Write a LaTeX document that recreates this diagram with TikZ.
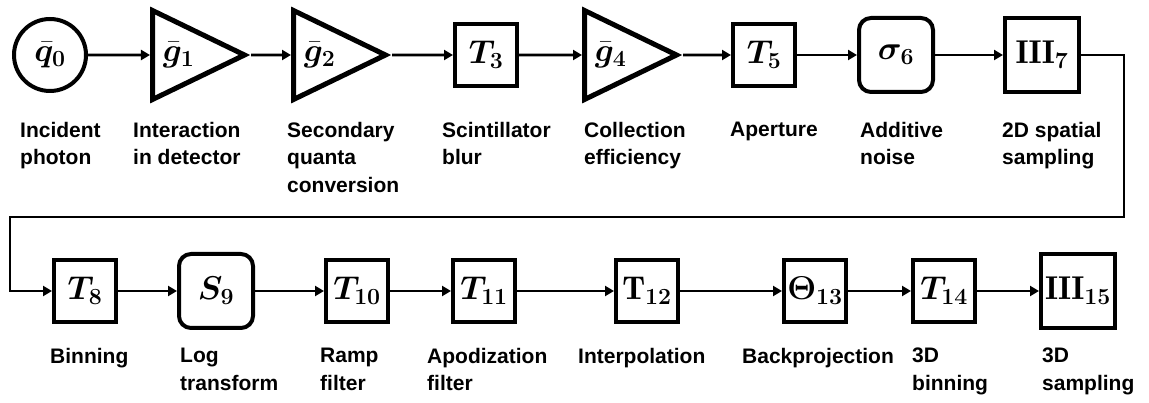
\documentclass[tikz,border=0pt]{standalone}
\usepackage{fix-cm}
\usepackage{amsmath}
\usepackage{bm}
\usepackage{fontspec}
\setsansfont{Liberation Sans}
\usetikzlibrary{arrows.meta,shapes.geometric}

\begin{document}
\begin{tikzpicture}[x=1pt,y=-1pt,
  mathfont/.style={font=\fontsize{33}{35}\selectfont},
  blk/.style={draw, line width=4pt, minimum width=62pt, minimum height=62pt, inner sep=0pt, mathfont},
  bigblk/.style={blk, minimum width=74pt, minimum height=74pt},
  rblk/.style={bigblk, rounded corners=12pt},
  gain/.style={draw, isosceles triangle, isosceles triangle stretches, line width=5pt,
    minimum width=89pt, minimum height=92pt, inner sep=0pt, anchor=lower side, mathfont},
  src/.style={draw, circle, line width=4pt, minimum size=72pt, inner sep=0pt, mathfont},
  conn/.style={line width=2.8pt, -{Triangle[length=9pt,width=10pt]}},
  lbl/.style={anchor=north west, align=left, inner sep=0pt, font=\sffamily\bfseries\fontsize{21}{27.5}\selectfont}]
\useasboundingbox (0,0) rectangle (1149,403);

% detector chain
\node[src] (q0) at (50,55) {$\bar{\bm{q}}_{\bm{0}}$};
\node[gain] (g1) at (150,55) {$\bar{\bm{g}}_{\bm{1}}$};
\node[gain] (g2) at (291,55) {$\bar{\bm{g}}_{\bm{2}}$};
\node[blk] (T3) at (486,55) {$\bm{T}_{\bm{3}}$};
\node[gain] (g4) at (582,55) {$\bar{\bm{g}}_{\bm{4}}$};
\node[blk] (T5) at (764,55) {$\bm{T}_{\bm{5}}$};
\node[rblk] (s6) at (896,55) {$\bm{\sigma}_{\bm{6}}$};
\node[bigblk] (III7) at (1042,55) {$\mathbf{III}_{\bm{7}}$};

% reconstruction chain
\node[blk] (T8) at (85,291) {$\bm{T}_{\bm{8}}$};
\node[rblk] (S9) at (216,291) {$\bm{S}_{\bm{9}}$};
\node[blk] (T10) at (357,291) {$\bm{T}_{\bm{10}}$};
\node[blk] (T11) at (484,291) {$\bm{T}_{\bm{11}}$};
\node[blk] (T12) at (647,291) {$\mathbf{T}_{\bm{12}}$};
\node[blk] (Th13) at (815,291) {$\bm{\Theta}_{\bm{13}}$};
\node[blk] (T14) at (944,291) {$\bm{T}_{\bm{14}}$};
\node[bigblk] (III15) at (1078,291) {$\mathbf{III}_{\bm{15}}$};

% captions
\node[lbl] (l0) at (20,122) {Incident\\photon};
\node[lbl] (l1) at (133,122) {Interaction\\in detector};
\node[lbl] (l2) at (287,122) {Secondary\\quanta\\conversion};
\node[lbl] (l3) at (442,122) {Scintillator\\blur};
\node[lbl] (l4) at (584,122) {Collection\\efficiency};
\node[lbl] (l5) at (730,122) {Aperture};
\node[lbl] (l6) at (860,122) {Additive\\noise};
\node[lbl] (l7) at (1002,122) {2D spatial\\sampling};
\node[lbl] (l8) at (50,348) {Binning};
\node[lbl] (l9) at (180,348) {Log\\transform};
\node[lbl] (l10) at (320,348) {Ramp\\filter};
\node[lbl] (l11) at (427,348) {Apodization\\filter};
\node[lbl] (l12) at (578,348) {Interpolation};
\node[lbl] (l13) at (742,348) {Backprojection};
\node[lbl] (l14) at (912,348) {3D\\binning};
\node[lbl] (l15) at (1042,348) {3D\\sampling};

% arrows
\draw[conn] (q0) -- (g1);
\draw[conn] (g1) -- (g2);
\draw[conn] (g2) -- (T3);
\draw[conn] (T3) -- (g4);
\draw[conn] (g4) -- (T5);
\draw[conn] (T5) -- (s6);
\draw[conn] (s6) -- (III7);
\coordinate (turnR) at (1124,217);
\coordinate (turnL) at (10,217);
\draw[conn] (III7.east) -| (turnR) -- (turnL) |- (T8.west);
\draw[conn] (T8) -- (S9);
\draw[conn] (S9) -- (T10);
\draw[conn] (T10) -- (T11);
\draw[conn] (T11) -- (T12);
\draw[conn] (T12) -- (Th13);
\draw[conn] (Th13) -- (T14);
\draw[conn] (T14) -- (III15);
\end{tikzpicture}
\end{document}
